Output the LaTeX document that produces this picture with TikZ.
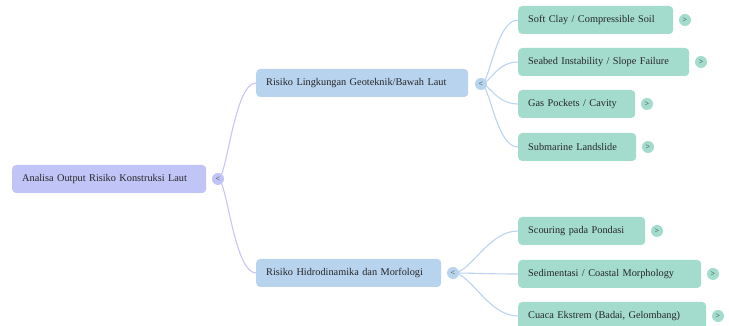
\documentclass[tikz,border=0pt]{standalone}
\usepackage{fontspec}
\setmainfont{Liberation Serif}
\begin{document}
\begin{tikzpicture}[x=1pt,y=1pt,
  box/.style={rounded corners=4pt, minimum height=28pt, inner xsep=10pt, inner ysep=0pt,
              anchor=west, align=left, font=\fontsize{10.3}{12}\selectfont, text=black!85},
  rootbox/.style={box, fill=rootc},
  midbox/.style={box, fill=midc},
  leafbox/.style={box, fill=leafc},
  knob/.style={circle, minimum size=12pt, inner sep=0pt, font=\fontsize{8}{8}\selectfont, text=black!80},
  rootlink/.style={draw=rootl, line width=1.1pt},
  midlink/.style={draw=midl, line width=1.1pt}]
\definecolor{rootc}{HTML}{C0C4F6}
\definecolor{midc}{HTML}{B8D3EE}
\definecolor{leafc}{HTML}{A3DCCD}
\definecolor{rootl}{HTML}{C8C6F4}
\definecolor{midl}{HTML}{BCD4F0}
\useasboundingbox (0,0) rectangle (729,326);

% root
\node[rootbox, text width=174pt] (root) at (12,147) {Analisa Output Risiko Konstruksi Laut};

% first level
\node[midbox, text width=192pt] (geo) at (256,243) {Risiko Lingkungan Geoteknik/Bawah Laut};
\node[midbox, text width=165pt] (hid) at (256,53) {Risiko Hidrodinamika dan Morfologi};

% second level, geotechnical branch
\node[leafbox, text width=135pt] (soft) at (518,306) {Soft Clay / Compressible Soil};
\node[leafbox, text width=151pt] (seabed) at (518,264) {Seabed Instability / Slope Failure};
\node[leafbox, text width=97pt] (gas) at (518,222) {Gas Pockets / Cavity};
\node[leafbox, text width=98pt] (slide) at (518,179) {Submarine Landslide};

% second level, hydrodynamic branch
\node[leafbox, text width=107pt] (scour) at (518,95) {Scouring pada Pondasi};
\node[leafbox, text width=163pt] (sedim) at (518,52) {Sedimentasi / Coastal Morphology};
\node[leafbox, text width=168pt] (cuaca) at (518,10) {Cuaca Ekstrem (Badai, Gelombang)};

% knob positions (links start under them)
\coordinate (rk0) at (218,147);
\coordinate (gk0) at (481,242);
\coordinate (hk0) at (453,53);

% connectors: from the parent's knob to the child's left edge
\foreach \t in {geo,hid}
  \draw[rootlink] (rk0) .. controls +(9,0) and +(-22,0) .. (\t.west);
\foreach \t in {soft,seabed,gas,slide}
  \draw[midlink] (gk0) .. controls +(9,0) and +(-22,0) .. (\t.west);
\foreach \t in {scour,sedim,cuaca}
  \draw[midlink] (hk0) .. controls +(18,0) and +(-30,0) .. (\t.west);

% collapse / expand knobs
\node[knob, fill=rootc] (rk) at (rk0) {<};
\node[knob, fill=midc] (gk) at (gk0) {<};
\node[knob, fill=midc] (hk) at (hk0) {<};
\node[knob, fill=leafc] (k1) at (685,306) {>};
\node[knob, fill=leafc] (k2) at (701,264) {>};
\node[knob, fill=leafc] (k3) at (647,222) {>};
\node[knob, fill=leafc] (k4) at (648,179) {>};
\node[knob, fill=leafc] (k5) at (657,95) {>};
\node[knob, fill=leafc] (k6) at (713,52) {>};
\node[knob, fill=leafc] (k7) at (718,10) {>};
\end{tikzpicture}
\end{document}
